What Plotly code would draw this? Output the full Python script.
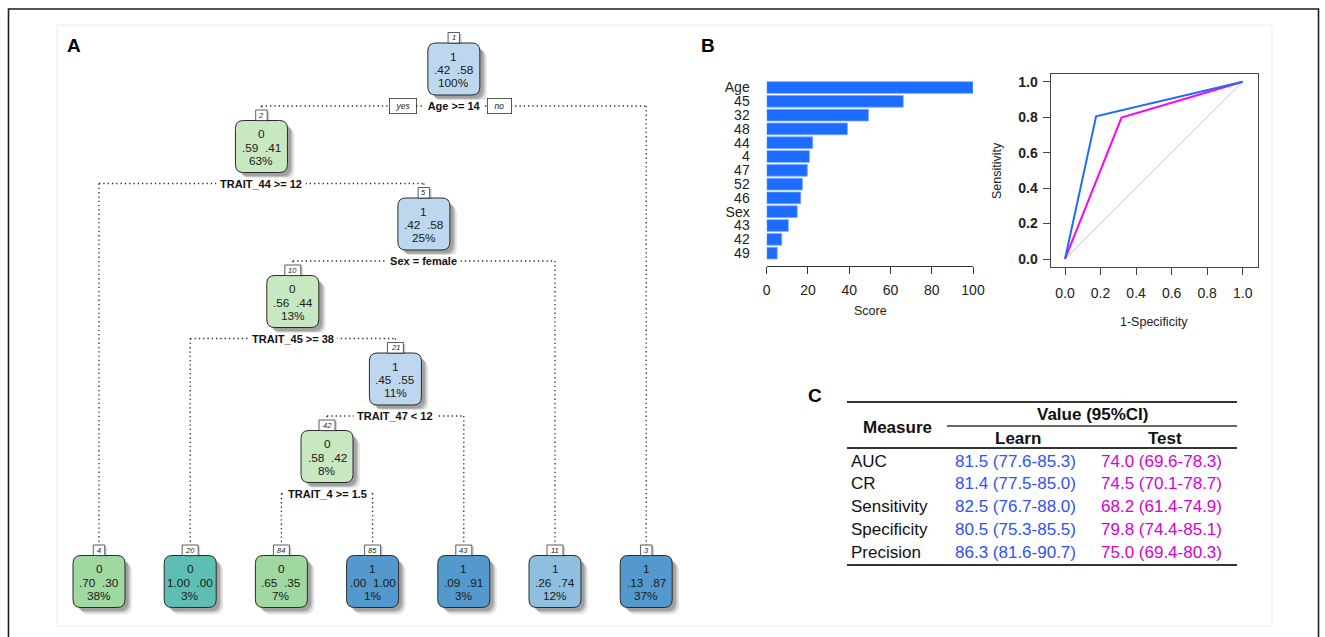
import plotly.graph_objects as go

W, H = 1325, 637
FONT = "Arial, Liberation Sans, Helvetica, sans-serif"

# ---------------- Panel A: classification tree (rpart style) ----------------
node_ids   = [1, 2, 3, 4, 5, 10, 11, 20, 21, 42, 43, 84, 85]
node_class = [1, 0, 1, 0, 1, 0, 1, 0, 1, 0, 1, 0, 1]
node_p0    = [.42, .59, .13, .70, .42, .56, .26, 1.00, .45, .58, .09, .65, .00]
node_p1    = [.58, .41, .87, .30, .58, .44, .74, .00, .55, .42, .91, .35, 1.00]
node_pct   = [100, 63, 37, 38, 25, 13, 12, 3, 11, 8, 3, 7, 1]
split_nodes  = [1, 2, 5, 10, 21, 42]
split_labels = ["Age >= 14", "TRAIT_44 >= 12", "Sex = female",
                "TRAIT_45 >= 38", "TRAIT_47 < 12", "TRAIT_4 >= 1.5"]

# ---------------- Panel B: variable importance + ROC ----------------
imp_vars  = ["Age", "45", "32", "48", "44", "4", "47", "52", "46", "Sex", "43", "42", "49"]
imp_score = [100, 66.2, 49.3, 39.1, 22.3, 20.7, 19.7, 17.3, 16.5, 14.8, 10.5, 7.3, 5.1]
score_ticks = [0, 20, 40, 60, 80, 100]

roc_learn_x = [0, 0.175, 1]
roc_learn_y = [0, 0.805, 1]
roc_test_x  = [0, 0.318, 1]
roc_test_y  = [0, 0.798, 1]
roc_ticks   = [0.0, 0.2, 0.4, 0.6, 0.8, 1.0]

# ---------------- Panel C: performance table ----------------
measures   = ["AUC", "CR", "Sensitivity", "Specificity", "Precision"]
learn_vals = ["81.5 (77.6-85.3)", "81.4 (77.5-85.0)", "82.5 (76.7-88.0)",
              "80.5 (75.3-85.5)", "86.3 (81.6-90.7)"]
test_vals  = ["74.0 (69.6-78.3)", "74.5 (70.1-78.7)", "68.2 (61.4-74.9)",
              "79.8 (74.4-85.1)", "75.0 (69.4-80.3)"]

BLUE_TXT = "#2f50ff"
MAG_TXT = "#d600d6"
BAR_BLUE = "#1c6cff"

fig = go.Figure()
shapes = []
ann = []

def px_x(v):
    return v / W

def px_y(v):
    return 1 - v / H

# full-figure pixel overlay axis for diagram + table
fig.add_trace(go.Scatter(x=[0], y=[0], xaxis="x3", yaxis="y3", mode="markers",
                         marker=dict(opacity=0), hoverinfo="skip", showlegend=False))

def rrect(x0, y0, x1, y1, r):
    return (f"M{x0+r},{y0} L{x1-r},{y0} Q{x1},{y0} {x1},{y0+r} L{x1},{y1-r} "
            f"Q{x1},{y1} {x1-r},{y1} L{x0+r},{y1} Q{x0},{y1} {x0},{y1-r} "
            f"L{x0},{y0+r} Q{x0},{y0} {x0+r},{y0} Z")

def add_text(x, y, text, size=12, color="#1a1a1a", xanchor="center", bold=False,
             italic=False, bg=None, border=None, yanchor="middle", textangle=0, pad=1.5):
    t = text
    if bold:
        t = f"<b>{t}</b>"
    if italic:
        t = f"<i>{t}</i>"
    d = dict(x=x, y=y, xref="x3", yref="y3", text=t, showarrow=False,
             xanchor=xanchor, yanchor=yanchor, textangle=textangle,
             font=dict(family=FONT, size=size, color=color), borderpad=0)
    if bg:
        d["bgcolor"] = bg
    if border:
        d["bordercolor"] = border
        d["borderwidth"] = 0.8
        d["borderpad"] = pad
    ann.append(d)

# frames
shapes.append(dict(type="rect", xref="x3", yref="y3", x0=8.5, y0=9, x1=1318.5, y1=700,
                   line=dict(color="#1e1e1e", width=1.6), layer="below"))
shapes.append(dict(type="rect", xref="x3", yref="y3", x0=57, y0=25, x1=1272, y1=626,
                   line=dict(color="#ececec", width=1), layer="below"))

# ---- tree layout ----
info = {n: dict(cls=c, p0=a, p1=b, pct=p) for n, c, a, b, p in
        zip(node_ids, node_class, node_p0, node_p1, node_pct)}
splits = dict(zip(split_nodes, split_labels))

def is_leaf(n):
    return n not in splits

def leaves_inorder(n):
    if is_leaf(n):
        return [n]
    return leaves_inorder(2 * n) + leaves_inorder(2 * n + 1)

leaf_order = leaves_inorder(1)
LEAF_X0, LEAF_DX = 99, 91.2
LEVEL_Y0, LEVEL_DY = 69, 77.5
LEAF_Y = 581.5
BOX_HALF = 26
pos = {}

def place(n, depth):
    if is_leaf(n):
        pos[n] = (LEAF_X0 + LEAF_DX * leaf_order.index(n), LEAF_Y)
    else:
        place(2 * n, depth + 1)
        place(2 * n + 1, depth + 1)
        pos[n] = ((pos[2 * n][0] + pos[2 * n + 1][0]) / 2, LEVEL_Y0 + depth * LEVEL_DY)

place(1, 0)

def node_color(cls, p):
    if cls == 0:
        if p >= 0.95:
            return "#5dbfb3"
        if p >= 0.62:
            return "#9fd8a0"
        return "#c7e8c1"
    else:
        if p >= 0.85:
            return "#5499cd"
        if p >= 0.7:
            return "#8ebfdf"
        return "#bdd7ee"

SPLIT_DY = 37
LINE = dict(color="#2a2a2a", width=1.3, dash="1.3px,3px")

# branches
for n in split_nodes:
    x, y = pos[n]
    ys = y + SPLIT_DY
    xl = pos[2 * n][0]
    xr = pos[2 * n + 1][0]
    shapes.append(dict(type="line", xref="x3", yref="y3", x0=xl, y0=ys, x1=xr, y1=ys,
                       line=LINE, layer="below"))
    for c in (2 * n, 2 * n + 1):
        cx, cy = pos[c]
        shapes.append(dict(type="line", xref="x3", yref="y3", x0=cx, y0=ys, x1=cx,
                           y1=cy - BOX_HALF - 10, line=LINE, layer="below"))
    add_text(x, ys, " " + splits[n] + " ", size=11, bold=True, bg="white", color="#111")

# yes / no
rx, ry = pos[1]
add_text(rx - 51, ry + SPLIT_DY, "  yes  ", size=8.5, italic=True, bg="white", border="#333",
         pad=2)
add_text(rx + 46, ry + SPLIT_DY, "  no  ", size=8.5, italic=True, bg="white", border="#333",
         pad=2)

def fmt(v):
    s = f"{v:.2f}"
    return s[1:] if s.startswith("0") else s

# boxes
for n in node_ids:
    x, y = pos[n]
    d = info[n]
    x0, x1 = x - BOX_HALF, x + BOX_HALF
    y0, y1 = y - BOX_HALF, y + BOX_HALF
    for off, a in ((7, 0.10), (5, 0.16), (3.5, 0.16)):
        shapes.append(dict(type="path", xref="x3", yref="y3",
                           path=rrect(x0 + off, y0 + off, x1 + off, y1 + off, 9),
                           fillcolor=f"rgba(0,0,0,{a})", line=dict(width=0), layer="below"))
    p = d["p0"] if d["cls"] == 0 else d["p1"]
    shapes.append(dict(type="path", xref="x3", yref="y3", path=rrect(x0, y0, x1, y1, 8),
                       fillcolor=node_color(d["cls"], p),
                       line=dict(color="#2a2a2a", width=1), layer="below"))
    # index label box
    lab = str(n)
    iw = 7 + 4.5 * len(lab)
    shapes.append(dict(type="rect", xref="x3", yref="y3", x0=x - iw / 2 + 2, x1=x + iw / 2 + 2,
                       y0=y0 - 9, y1=y0 + 1, fillcolor="rgba(0,0,0,0.18)",
                       line=dict(width=0), layer="below"))
    shapes.append(dict(type="rect", xref="x3", yref="y3", x0=x - iw / 2, x1=x + iw / 2,
                       y0=y0 - 10.5, y1=y0, fillcolor="white",
                       line=dict(color="#333", width=0.8), layer="below"))
    add_text(x, y0 - 5.2, lab, size=7.5, italic=True, color="#222")
    add_text(x, y - 12.5, str(d["cls"]), size=11.8)
    add_text(x, y + 1, f"{fmt(d['p0'])}  {fmt(d['p1'])}", size=11.8)
    add_text(x, y + 14, f"{d['pct']}%", size=11.8)

# panel letters
add_text(74, 45, "A", size=19, bold=True, color="#000")
add_text(708, 45, "B", size=19, bold=True, color="#000")
add_text(815, 395, "C", size=19, bold=True, color="#000")

# ---------------- bar chart ----------------
nbar = len(imp_vars)
ypos = [nbar - 1 - i for i in range(nbar)]
fig.add_trace(go.Bar(x=imp_score, y=ypos, orientation="h", marker=dict(color=BAR_BLUE,
                     line=dict(color="#7aa8ff", width=0.8)), width=0.85,
                     xaxis="x", yaxis="y", showlegend=False, hoverinfo="skip"))

# ---------------- ROC ----------------
fig.add_trace(go.Scatter(x=[0, 1], y=[0, 1], mode="lines", line=dict(color="#c4c4c4", width=1),
                         xaxis="x2", yaxis="y2", showlegend=False, hoverinfo="skip"))
fig.add_trace(go.Scatter(x=roc_test_x, y=roc_test_y, mode="lines",
                         line=dict(color="#ff00ff", width=2), xaxis="x2", yaxis="y2",
                         showlegend=False, hoverinfo="skip"))
fig.add_trace(go.Scatter(x=roc_learn_x, y=roc_learn_y, mode="lines",
                         line=dict(color="#1f6bff", width=2), xaxis="x2", yaxis="y2",
                         showlegend=False, hoverinfo="skip"))

add_text(870, 311, "Score", size=12.5, color="#222")
add_text(1154, 322, "1-Specificity", size=12.5, color="#222")
add_text(997, 171, "Sensitivity", size=12.5, color="#222", textangle=-90)

# ---------------- table ----------------
TL, TR = 847, 1237
for y, x0, wdt in ((402, TL, 2), (426, 947, 1.6), (448, TL, 2.2), (565, TL, 2.2)):
    shapes.append(dict(type="line", xref="x3", yref="y3", x0=x0, x1=TR, y0=y, y1=y,
                       line=dict(color="#333", width=wdt)))
add_text(897, 427, "Measure", size=17, bold=True, color="#111")
add_text(1093, 414, "Value (95%CI)", size=17, bold=True, color="#111")
add_text(1018, 438, "Learn", size=17, bold=True, color="#111")
add_text(1165, 438, "Test", size=17, bold=True, color="#111")
for i, (m, lv, tv) in enumerate(zip(measures, learn_vals, test_vals)):
    yy = 461 + 22.8 * i
    add_text(850, yy, m, size=17, xanchor="left", color="#111")
    add_text(954, yy, lv, size=17, xanchor="left", color=BLUE_TXT)
    add_text(1100, yy, tv, size=17, xanchor="left", color=MAG_TXT)

# bar axes geometry
bar_top, bar_bot = 75, 266
bar_y_hi = (253.1 - bar_top) / 13.8
bar_y_lo = (253.1 - bar_bot) / 13.8
roc_l, roc_r, roc_t, roc_b = 1050.7, 1258, 74, 266.7

axis_font = dict(family=FONT, size=14, color="#222")
fig.update_layout(
    template="none",
    width=W, height=H, autosize=False, margin=dict(l=0, r=0, t=0, b=0, pad=0),
    paper_bgcolor="white", plot_bgcolor="rgba(0,0,0,0)",
    showlegend=False,
    bargap=0.15,
    xaxis=dict(domain=[px_x(766.7), px_x(973)], range=[0, 100], tickvals=score_ticks,
               showline=True, linecolor="#333", linewidth=1, ticks="outside", ticklen=7,
               tickcolor="#333", showgrid=False, zeroline=False, tickfont=axis_font,
               ticklabelstandoff=4, fixedrange=True, automargin=False),
    yaxis=dict(domain=[px_y(bar_bot), px_y(bar_top)], range=[bar_y_lo, bar_y_hi],
               tickvals=ypos, ticktext=imp_vars, showline=False, showgrid=False,
               zeroline=False, ticks="", tickfont=dict(family=FONT, size=14, color="#222"),
               ticklabelstandoff=16, fixedrange=True, automargin=False),
    xaxis2=dict(domain=[px_x(roc_l), px_x(roc_r)], range=[-0.0805, 1.086], tickvals=roc_ticks,
                ticktext=[f"{v:.1f}" for v in roc_ticks], anchor="y2",
                showline=True, mirror=True, linecolor="#444", linewidth=1.2, ticks="outside",
                ticklen=7, tickcolor="#444", showgrid=False, zeroline=False, tickfont=axis_font,
                ticklabelstandoff=6, fixedrange=True, automargin=False),
    yaxis2=dict(domain=[px_y(roc_b), px_y(roc_t)], range=[-0.0434, 1.0434], tickvals=roc_ticks,
                ticktext=[f"<b>{v:.1f}</b>" for v in roc_ticks], anchor="x2",
                showline=True, mirror=True, linecolor="#444", linewidth=1.2, ticks="outside",
                ticklen=7, tickcolor="#444", showgrid=False, zeroline=False, tickfont=axis_font,
                ticklabelstandoff=2, fixedrange=True, automargin=False),
    xaxis3=dict(domain=[0, 1], range=[0, W], visible=False, anchor="y3", fixedrange=True,
                automargin=False),
    yaxis3=dict(domain=[0, 1], range=[H, 0], visible=False, anchor="x3", fixedrange=True,
                automargin=False),
    shapes=shapes, annotations=ann,
)

fig.write_html(
    "out.html",
    config={"displayModeBar": False, "responsive": False},
    post_script=("document.documentElement.style.overflow='hidden';"
                 "document.body.style.margin='0';document.body.style.overflow='hidden';"),
)
